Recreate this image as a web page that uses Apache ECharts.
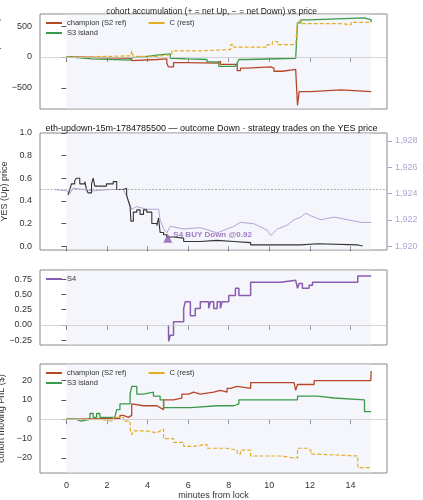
<!DOCTYPE html><html><head><meta charset="utf-8">
<script src="https://cdn.jsdelivr.net/npm/echarts@6/dist/echarts.min.js"></script>
<style>html,body{margin:0;padding:0;background:#fff}#c{width:423px;height:500px}</style></head><body><div id="c"></div>
<script>
// panel 1: accumulated net YES shares
const accChampX=[0,0.5,3.22,3.3,4.46,4.95,5.03,5.28,5.94,7.43,7.51,7.59,8.42,8.58,8.91,10.07,10.23,10.64,11.3,11.39,11.47,12.05,13.53,15.02];
const accChampY=[0,-20,-60,-40,-30,-100,-160,-90,-100,-110,-70,-120,-220,-180,-160,-180,-230,-200,-200,-780,-560,-530,-560,-560];
const accS3X=[0,0.25,1.24,3.14,3.22,3.3,3.8,4.46,5.12,5.28,5.94,6.93,7.51,8.33,8.42,8.5,8.91,11.3,11.39,11.55,11.96,14.69,15.02];
const accS3Y=[0,-30,-50,-40,-10,0,30,50,-20,-30,-40,-80,-150,-160,-100,-40,-20,-10,550,600,630,600,560];
const accCX=[0,0.99,3.18,3.22,3.3,4.46,5.2,6.6,8.09,8.25,9.9,10.15,10.4,11.3,11.39,11.55,13.53,14.03,15.02];
const accCY=[0,20,20,100,10,40,100,120,200,160,200,250,200,200,580,540,520,560,560];
// panel 2: YES price and ETH/USD
const yesX=[0.08,0.17,0.25,0.41,0.5,0.66,0.91,0.99,1.07,1.24,1.32,1.4,1.98,2.31,2.48,2.64,2.81,2.97,3.05,3.14,3.18,3.3,3.47,3.63,3.8,3.96,4.21,4.46,4.54,4.62,4.79,4.95,5.28,5.78,6.6,7.43,8.25,9.08,11.22,11.55,12.38,14.36,14.6];
const yesY=[0.45,0.5,0.55,0.58,0.6,0.55,0.57,0.5,0.47,0.55,0.6,0.53,0.55,0.57,0.5,0.5,0.51,0.45,0.4,0.35,0.22,0.3,0.32,0.28,0.32,0.3,0.2,0.18,0.25,0.12,0.1,0.08,0.07,0.04,0.05,0.04,0.03,0.01,0.01,0.02,0.01,0.0,0.0];
const ethX=[-0.58,0,0.17,0.33,1.32,2.15,2.81,3.05,3.22,3.47,3.96,4.54,4.62,4.79,4.95,5.12,5.78,6.6,7.43,8.25,8.58,9.24,9.9,10.07,10.4,10.89,11.22,11.55,11.8,12.05,12.54,13.2,13.86,14.52,15.02];
const ethY=[1924.3,1924.2,1924.0,1924.4,1924.2,1924.3,1924.3,1923.5,1922.8,1923.0,1922.8,1922.8,1922.0,1921.3,1921.0,1921.5,1921.3,1921.4,1921.0,1921.5,1921.8,1921.7,1921.2,1920.8,1921.3,1921.6,1922.0,1922.2,1922.5,1922.3,1922.0,1922.2,1922.0,1921.8,1921.8];
const tradeX=[5.0], tradeY=[0.07], tradeLabel=['S4 BUY Down @0.92'];
// panel 3: strategy PnL
const s4X=[5.03,5.04,5.12,5.28,5.45,5.78,5.86,6.11,6.35,6.6,7.01,7.1,7.26,7.43,7.59,7.67,7.84,8.0,8.33,8.5,9.08,10.56,11.3,11.39,11.47,11.63,11.96,12.13,14.36,15.02];
const s4Y=[0,-0.27,-0.17,0.05,0.05,0.27,0.38,0.15,0.27,0.38,0.27,0.38,0.27,0.38,0.27,0.38,0.38,0.48,0.6,0.48,0.7,0.73,0.73,0.6,0.68,0.6,0.65,0.7,0.8,0.8];
// panel 4: cohort moving PnL
const pnlChampX=[0,0.5,2.15,2.64,2.81,3.05,3.22,3.3,3.8,4.46,4.62,4.79,5.28,5.69,6.02,6.27,6.6,7.26,7.59,7.92,8.09,8.42,9.08,11.22,11.3,11.39,11.88,12.21,15.0,15.02];
const pnlChampY=[0,0.5,0.5,2,1,2,8,7,7,6,5,10,11,13,14,13,14,15,14,16,17,16,19,20,15,18,18,20,20,25];
const pnlS3X=[0,0.5,0.74,1.16,1.32,1.49,1.65,2.39,2.48,2.64,3.14,3.22,3.47,3.8,4.29,4.62,4.79,5.45,6.11,7.43,8.25,8.5,11.22,11.39,12.38,13.2,14.69,15.02];
const pnlS3Y=[0,-1,0,3,1,3,1,1,5,8,13,17,13,14,12,10,6,6,7,7,8,10,10,12,11,10,4,4];
const pnlCX=[0,0.83,1.65,2.31,2.81,3.14,3.22,3.3,3.96,4.46,4.62,4.79,5.28,5.78,6.27,6.93,7.92,8.42,8.58,9.08,10.56,11.22,11.39,11.88,12.05,12.21,14.36,15.02];
const pnlCY=[0,0,-1,1,-1,-5,-8,-6,-7,-6,-5,-10,-12,-14,-13,-15,-16,-18,-16,-19,-20,-20,-15,-16,-18,-19,-25,-25];
const xTicks=[0,2,4,6,8,10,12,14];

const RED='#b8472a',GRN='#3d9a4a',YEL='#e3ae25',PUR='#8a5cb0',LPUR='#b4a3d6';
const zip=(a,b)=>a.map((v,i)=>[v,b[i]]);
const grids=[{top:14,height:95},{top:133,height:117},{top:270,height:75},{top:364,height:109}];
const ax={fontSize:9,color:'#333'};
const gl={show:true,lineStyle:{color:'#eceef3',width:0.6}};
const xAxis=grids.map((g,i)=>({type:'value',gridIndex:i,min:-1.3,max:15.8,
  axisLabel:{show:i===3,...ax,customValues:xTicks},
  axisTick:{show:true,customValues:xTicks},axisLine:{show:false},
  splitLine:{show:false},
  name:i===3?'minutes from lock':'',nameLocation:'middle',nameGap:16,nameTextStyle:{fontSize:9,color:'#333'}}));
const yname=(n,gap)=>({name:n,nameLocation:'middle',nameGap:gap,nameTextStyle:{fontSize:9,color:'#333'},axisLine:{show:false}});
const mk=(vals,fmt)=>({axisLabel:{...ax,customValues:vals,formatter:fmt},axisTick:{show:true,customValues:vals},splitLine:{show:false}});
const neg=v=>String(v).replace('-','−');
const yAxis=[
 {type:'value',gridIndex:0,min:-839,max:694,...mk([-500,0,500],neg),...yname('acc. net YES (shares)',30)},
 {type:'value',gridIndex:1,min:-0.035,max:1.0,...mk([0,0.2,0.4,0.6,0.8,1.0],v=>v.toFixed(1)),...yname('YES (Up) price',24)},
 {type:'value',gridIndex:1,position:'right',min:1919.7,max:1928.6,axisLabel:{fontSize:9,color:LPUR,customValues:[1920,1922,1924,1926,1928]},axisTick:{show:true,customValues:[1920,1922,1924,1926,1928],lineStyle:{color:LPUR}},axisLine:{show:false},splitLine:{show:false},name:'ETH/USD (strike dotted = YES 0.5)',nameLocation:'middle',nameGap:28,nameRotate:90,nameTextStyle:{fontSize:8,color:LPUR}},
 {type:'value',gridIndex:2,min:-0.33,max:0.9,...mk([-0.25,0,0.25,0.5,0.75],v=>(v<0?'−':'')+Math.abs(v).toFixed(2)),...yname('strategy PnL ($)',30)},
 {type:'value',gridIndex:3,min:-27.8,max:28.6,...mk([-20,-10,0,10,20],neg),...yname('cohort moving PnL ($)',22)}
];
const shade={silent:true,itemStyle:{color:'rgba(230,235,248,0.45)'},data:[[{xAxis:0},{xAxis:15}]]};
const zero={silent:true,symbol:'none',label:{show:false},lineStyle:{color:'#ccc',width:0.8,type:'solid'},data:[{yAxis:0}]};
const ln=(name,x,y,color,xi,yi,extra)=>Object.assign({name,type:'line',step:'end',data:zip(x,y),xAxisIndex:xi,yAxisIndex:yi,showSymbol:false,symbol:'none',lineStyle:{color,width:1.3},itemStyle:{color},z:3},extra||{});
const series=[
 ln('champion (S2 ref)',accChampX,accChampY,RED,0,0,{markArea:shade,markLine:zero}),
 ln('S3 island',accS3X,accS3Y,GRN,0,0),
 ln('C (rest)',accCX,accCY,YEL,0,0,{lineStyle:{color:YEL,width:1.2,type:[4,2]}}),
 ln('ETH',ethX,ethY,LPUR,1,2,{step:false,lineStyle:{color:LPUR,width:1}}),
 ln('YES',yesX,yesY,'#333',1,1,{lineStyle:{color:'#333',width:1.1},markArea:shade,
   markLine:{silent:true,symbol:'none',label:{show:false},lineStyle:{color:'#aaa',width:0.9,type:[2,1.5]},data:[{yAxis:0.5}]}}),
 {type:'scatter',xAxisIndex:1,yAxisIndex:1,data:zip(tradeX,tradeY),symbol:'triangle',symbolSize:9,itemStyle:{color:PUR},z:5,
   label:{show:true,position:'right',distance:1,formatter:p=>tradeLabel[p.dataIndex],fontSize:8,fontWeight:'bold',color:PUR,offset:[0,-3]}},
 ln('S4',s4X,s4Y,PUR,2,3,{lineStyle:{color:PUR,width:1.5},markArea:shade,markLine:zero}),
 ln('champion (S2 ref)',pnlChampX,pnlChampY,RED,3,4,{markArea:shade,markLine:zero}),
 ln('S3 island',pnlS3X,pnlS3Y,GRN,3,4),
 ln('C (rest)',pnlCX,pnlCY,YEL,3,4,{lineStyle:{color:YEL,width:1.2,type:[4,2]}})
];
const lg=(data,left,top)=>({data,left,top,itemWidth:16,itemHeight:2,itemGap:22,icon:'path://M0,0H16V2H0Z',textStyle:{fontSize:7.5,color:'#333'},selectedMode:false,padding:0});
const chart=echarts.init(document.getElementById('c'),null,{renderer:'canvas'});
chart.setOption({animation:false,backgroundColor:'#fff',
 title:[{text:'cohort accumulation (+ = net Up, − = net Down) vs price',left:'center',top:2,textStyle:{fontSize:8.5,fontWeight:'normal',color:'#222'}},
        {text:'eth-updown-15m-1784785500 — outcome Down · strategy trades on the YES price',left:'center',top:119,textStyle:{fontSize:9,fontWeight:'normal',color:'#111'}}],
 grid:grids.map(g=>({left:40,right:36,top:g.top,height:g.height,show:true,borderColor:'#888',borderWidth:1,backgroundColor:'transparent',containLabel:false,outerBoundsMode:'none'})),
 legend:[lg(['champion (S2 ref)','C (rest)'],46,19),lg(['S3 island'],46,29),
   {data:['S4'],left:46,top:275,itemWidth:16,itemHeight:2,icon:'path://M0,0H16V2H0Z',textStyle:{fontSize:7.5,color:'#333'},selectedMode:false,padding:0},
   lg(['champion (S2 ref)','C (rest)'],46,369),lg(['S3 island'],46,379)],
 xAxis,yAxis,series});
</script></body></html>
